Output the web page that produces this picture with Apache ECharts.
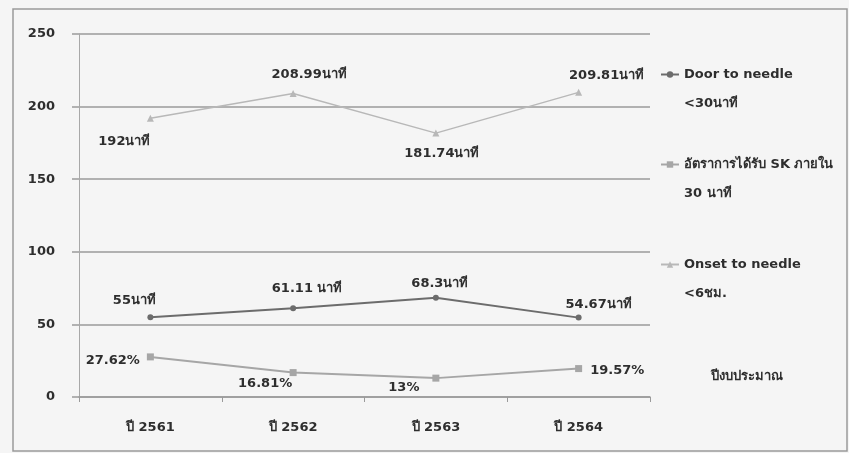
<!DOCTYPE html>
<html>
<head>
<meta charset="utf-8">
<script src="https://cdn.jsdelivr.net/npm/echarts@6/dist/echarts.min.js"></script>
<style>
  html, body { margin: 0; padding: 0; background: #f7f7f7; }
  #chart { width: 849px; height: 453px; }
</style>
</head>
<body>
<div id="chart"></div>
<script>
// Fiscal years (x axis)
const years = ['ปี 2561', 'ปี 2562', 'ปี 2563', 'ปี 2564'];
const xAxisTitle = 'ปีงบประมาณ';

// Series names as shown in the legend
const nameDoor = 'Door to needle\n<30นาที';
const nameSK = 'อัตราการได้รับ SK ภายใน\n30 นาที';
const nameOnset = 'Onset to needle\n<6ชม.';

// Series values
const doorToNeedle = [55, 61.11, 68.3, 54.67];
const skWithin30 = [27.62, 16.81, 13, 19.57];
const onsetToNeedle = [192, 208.99, 181.74, 209.81];

// Data label texts
const doorLabels = ['55นาที', '61.11 นาที', '68.3นาที', '54.67นาที'];
const skLabels = ['27.62%', '16.81%', '13%', '19.57%'];
const onsetLabels = ['192นาที', '208.99นาที', '181.74นาที', '209.81นาที'];

// Y axis ticks
const yMin = 0, yMax = 250, yStep = 50;

// Label placement per point: [position, offsetX, offsetY]
const doorPlace = [['top', -16, -2], ['top', 14, -5], ['top', 4, 0], ['top', 20, 2]];
const skPlace = [['left', -2, 4], ['bottom', -28, -4], ['bottom', -32, -5], ['right', 3, 2]];
const onsetPlace = [['bottom', -26, 8], ['top', 16, -4], ['bottom', 6, 6], ['top', 28, -2]];

const FONT = '"DejaVu Sans", "Noto Sans", sans-serif';
const TEXT = '#2e2e2e';
const FS = 13;

function points(values, texts, place) {
  return values.map((v, i) => ({
    value: v,
    label: {
      show: true,
      formatter: texts[i],
      position: place[i][0],
      offset: [place[i][1], place[i][2]],
      color: TEXT,
      fontFamily: FONT,
      fontWeight: 'bold',
      fontSize: FS
    }
  }));
}

const chart = echarts.init(document.getElementById('chart'), null, { renderer: 'canvas' });

// Legend entries: a leading blank line keeps the marker level with the first text line
const legendBase = {
  orient: 'vertical',
  left: 655,
  itemWidth: 18,
  itemHeight: 8,
  formatter: name => '\n' + name,
  textStyle: {
    color: TEXT,
    fontFamily: FONT,
    fontWeight: 'bold',
    fontSize: FS,
    lineHeight: 29
  }
};

chart.setOption({
  backgroundColor: '#f5f5f5',
  animation: false,
  grid: { left: 79, right: 199, top: 34, bottom: 56 },
  graphic: [
    {
      type: 'rect',
      shape: { x: 13, y: 9, width: 834, height: 442 },
      style: { fill: 'none', stroke: '#9a9a9a', lineWidth: 1.5 },
      silent: true
    },
    {
      type: 'text',
      left: 711,
      top: 370,
      style: {
        text: xAxisTitle,
        fill: TEXT,
        font: 'bold ' + FS + 'px ' + FONT
      }
    }
  ],
  legend: [
    Object.assign({}, legendBase, { top: 26, data: [nameDoor] }),
    Object.assign({}, legendBase, { top: 116, data: [nameSK] }),
    Object.assign({}, legendBase, { top: 216, data: [nameOnset] })
  ],
  xAxis: {
    type: 'category',
    data: years,
    boundaryGap: true,
    axisLine: { lineStyle: { color: '#9a9a9a', width: 1.5 } },
    axisTick: { show: true, length: 5, lineStyle: { color: '#9a9a9a' } },
    axisLabel: {
      color: TEXT,
      fontFamily: FONT,
      fontWeight: 'bold',
      fontSize: FS,
      margin: 24
    }
  },
  yAxis: {
    type: 'value',
    min: yMin,
    max: yMax,
    interval: yStep,
    axisLine: { show: true, lineStyle: { color: '#a8a8a8', width: 1 } },
    axisTick: { show: true, length: 7, lineStyle: { color: '#9a9a9a', width: 1.5 } },
    axisLabel: {
      color: TEXT,
      fontFamily: FONT,
      fontWeight: 'bold',
      fontSize: FS,
      margin: 24
    },
    splitLine: { lineStyle: { color: '#9a9a9a', width: 1.5 } }
  },
  series: [
    {
      name: nameDoor,
      type: 'line',
      data: points(doorToNeedle, doorLabels, doorPlace),
      symbol: 'circle',
      symbolSize: 6,
      lineStyle: { color: '#6c6c6c', width: 2 },
      itemStyle: { color: '#6c6c6c' },
      z: 4
    },
    {
      name: nameSK,
      type: 'line',
      data: points(skWithin30, skLabels, skPlace),
      symbol: 'rect',
      symbolSize: 7,
      lineStyle: { color: '#a6a6a6', width: 2 },
      itemStyle: { color: '#a6a6a6' },
      z: 3
    },
    {
      name: nameOnset,
      type: 'line',
      data: points(onsetToNeedle, onsetLabels, onsetPlace),
      symbol: 'triangle',
      symbolSize: 7,
      lineStyle: { color: '#b8b8b8', width: 1.5 },
      itemStyle: { color: '#b8b8b8' },
      z: 2
    }
  ]
});
</script>
</body>
</html>
